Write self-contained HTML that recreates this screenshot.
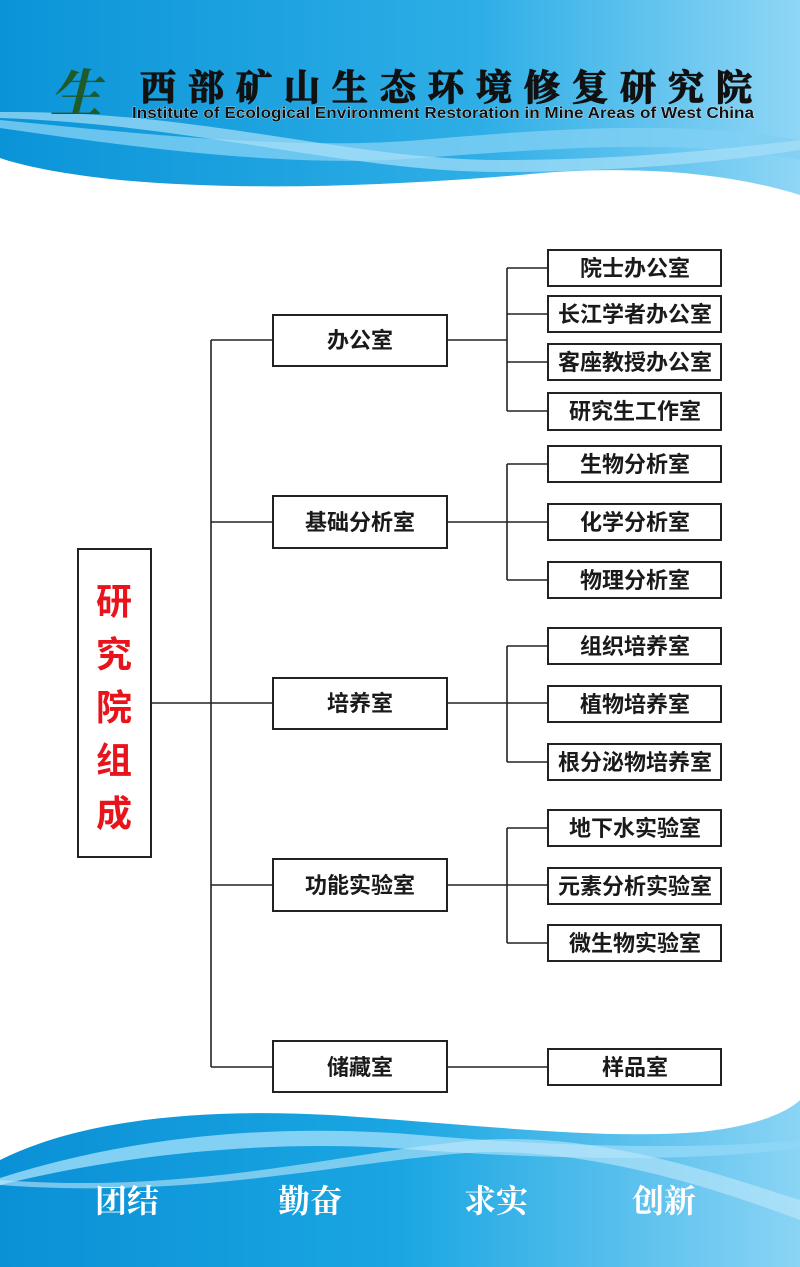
<!DOCTYPE html>
<html><head><meta charset="utf-8"><style>
html,body{margin:0;padding:0;background:#fff}
svg{display:block}
</style></head><body>
<svg width="800" height="1267" viewBox="0 0 800 1267" xmlns="http://www.w3.org/2000/svg">
<defs>
<linearGradient id="hg" x1="0" x2="1" y1="0" y2="0">
<stop offset="0" stop-color="#0a94d8"/><stop offset="0.6" stop-color="#2eaee6"/><stop offset="1" stop-color="#8fd6f6"/>
</linearGradient>
<linearGradient id="fg" x1="0" x2="1" y1="0" y2="0">
<stop offset="0" stop-color="#0a90d6"/><stop offset="0.5" stop-color="#1aa6e2"/><stop offset="1" stop-color="#8ad4f5"/>
</linearGradient>
</defs>
<!-- header -->
<path d="M0 0 H800 V195 C720 170 620 165 520 175 C400 185 250 192 120 180 C60 174 20 165 0 158 Z" fill="url(#hg)"/>
<path d="M0 120 C150 135 300 150 420 140 C560 128 680 120 800 140 V160 C680 138 560 148 420 158 C300 168 150 150 0 128 Z" fill="#7fd0f4" opacity="0.8"/>
<path d="M0 112 C200 110 350 160 500 160 C620 160 720 150 800 140 V150 C720 162 620 172 500 172 C350 172 200 125 0 118 Z" fill="#a8e0f8" opacity="0.7"/>
<text x="50" y="112" font-family="Liberation Serif, Noto Serif CJK SC, serif" font-size="52" font-weight="bold" font-style="italic" fill="#1f5a2a">生</text>
<text x="140" y="100" font-family="Liberation Serif, Noto Serif CJK SC, serif" font-size="36" font-weight="bold" fill="#111" stroke="#111" stroke-width="1.2" textLength="612">西部矿山生态环境修复研究院</text>
<text x="132" y="118" font-family="Liberation Sans, sans-serif" font-size="16" font-weight="bold" fill="#111" stroke="#fff" stroke-width="0.6" paint-order="stroke" textLength="622" lengthAdjust="spacingAndGlyphs">Institute of Ecological Environment Restoration in Mine Areas of West China</text>
<!-- footer -->
<path d="M0 1160 C80 1120 200 1108 330 1115 C480 1125 600 1140 700 1132 C760 1126 790 1110 800 1100 V1267 H0 Z" fill="url(#fg)"/>
<path d="M0 1178 C150 1130 300 1125 420 1135 C560 1147 700 1150 800 1140 V1148 C700 1162 560 1160 420 1150 C300 1140 150 1148 0 1185 Z" fill="#8fd6f6" opacity="0.9"/>
<path d="M0 1180 C200 1195 350 1150 480 1140 C600 1132 720 1175 800 1200 V1220 C720 1190 600 1150 480 1152 C350 1160 200 1200 0 1185 Z" fill="#bfe8fa" opacity="0.6"/>
<g font-family="Liberation Serif, Noto Serif CJK SC, serif" font-size="32" font-weight="bold" fill="#fff">
<text x="95" y="1212">团结</text><text x="278" y="1212">勤奋</text><text x="464" y="1212">求实</text><text x="632" y="1212">创新</text>
</g>
<!-- chart lines -->
<g stroke="#222" stroke-width="1.6" fill="none">
<line x1="151" y1="703" x2="211" y2="703"/>
<line x1="211" y1="340" x2="211" y2="1067"/>
<line x1="211" y1="340" x2="273" y2="340"/>
<line x1="211" y1="522" x2="273" y2="522"/>
<line x1="211" y1="703" x2="273" y2="703"/>
<line x1="211" y1="885" x2="273" y2="885"/>
<line x1="211" y1="1067" x2="273" y2="1067"/>
<line x1="447" y1="340" x2="507" y2="340"/><line x1="507" y1="268" x2="507" y2="411"/>
<line x1="507" y1="268" x2="548" y2="268"/><line x1="507" y1="314" x2="548" y2="314"/><line x1="507" y1="362" x2="548" y2="362"/><line x1="507" y1="411" x2="548" y2="411"/>
<line x1="447" y1="522" x2="548" y2="522"/><line x1="507" y1="464" x2="507" y2="580"/>
<line x1="507" y1="464" x2="548" y2="464"/><line x1="507" y1="580" x2="548" y2="580"/>
<line x1="447" y1="703" x2="548" y2="703"/><line x1="507" y1="646" x2="507" y2="762"/>
<line x1="507" y1="646" x2="548" y2="646"/><line x1="507" y1="762" x2="548" y2="762"/>
<line x1="447" y1="885" x2="548" y2="885"/><line x1="507" y1="828" x2="507" y2="943"/>
<line x1="507" y1="828" x2="548" y2="828"/><line x1="507" y1="943" x2="548" y2="943"/>
<line x1="447" y1="1067" x2="548" y2="1067"/>
</g>
<g stroke="#222" stroke-width="2" fill="#fff">
<rect x="78" y="549" width="73" height="308"/>
<rect x="273" y="315" width="174" height="51"/>
<rect x="273" y="496" width="174" height="52"/>
<rect x="273" y="678" width="174" height="51"/>
<rect x="273" y="859" width="174" height="52"/>
<rect x="273" y="1041" width="174" height="51"/>
<rect x="548" y="250" width="173" height="36"/>
<rect x="548" y="296" width="173" height="36"/>
<rect x="548" y="344" width="173" height="36"/>
<rect x="548" y="393" width="173" height="37"/>
<rect x="548" y="446" width="173" height="36"/>
<rect x="548" y="504" width="173" height="36"/>
<rect x="548" y="562" width="173" height="36"/>
<rect x="548" y="628" width="173" height="36"/>
<rect x="548" y="686" width="173" height="36"/>
<rect x="548" y="744" width="173" height="36"/>
<rect x="548" y="810" width="173" height="36"/>
<rect x="548" y="868" width="173" height="36"/>
<rect x="548" y="925" width="173" height="36"/>
<rect x="548" y="1049" width="173" height="36"/>
</g>
<g font-family="Liberation Sans, Noto Sans CJK SC, sans-serif" font-size="36" font-weight="bold" fill="#e8141c" text-anchor="middle">
<text x="114" y="614">研</text><text x="114" y="667">究</text><text x="114" y="720">院</text><text x="114" y="773">组</text><text x="114" y="826">成</text>
</g>
<g font-family="Liberation Sans, Noto Sans CJK SC, sans-serif" font-size="22" font-weight="bold" fill="#1a1a1a" text-anchor="middle">
<text x="360" y="348">办公室</text>
<text x="360" y="530">基础分析室</text>
<text x="360" y="711">培养室</text>
<text x="360" y="893">功能实验室</text>
<text x="360" y="1075">储藏室</text>
<text x="635" y="276">院士办公室</text>
<text x="635" y="322">长江学者办公室</text>
<text x="635" y="370">客座教授办公室</text>
<text x="635" y="419">研究生工作室</text>
<text x="635" y="472">生物分析室</text>
<text x="635" y="530">化学分析室</text>
<text x="635" y="588">物理分析室</text>
<text x="635" y="654">组织培养室</text>
<text x="635" y="712">植物培养室</text>
<text x="635" y="770">根分泌物培养室</text>
<text x="635" y="836">地下水实验室</text>
<text x="635" y="894">元素分析实验室</text>
<text x="635" y="951">微生物实验室</text>
<text x="635" y="1075">样品室</text>
</g>
</svg>
</body></html>
